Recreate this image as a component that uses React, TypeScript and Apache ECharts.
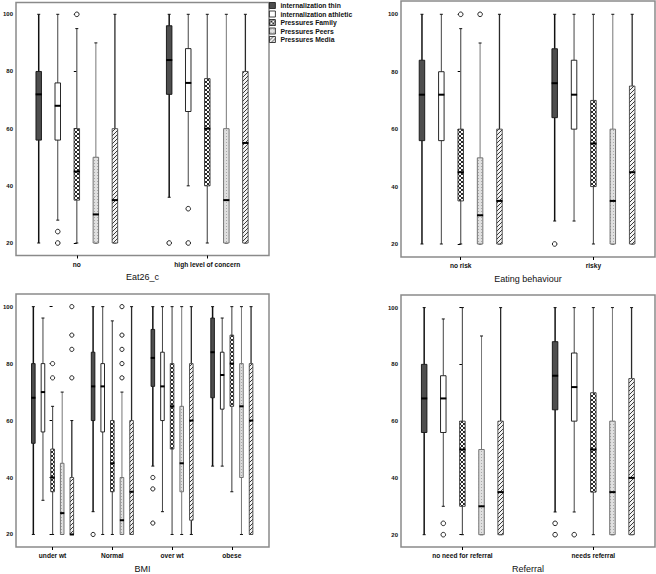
import React, { useEffect, useRef } from 'react';
import * as echarts from 'echarts';

const SERIES_NAMES = [
  'internalization thin',
  'internalization athletic',
  'Pressures Family',
  'Pressures Peers',
  'Pressures Media',
];

// Each box: [min, Q1, median, Q3, max]; one entry per category
const EAT_CATEGORIES = ['no', 'high level of concern'];
const EAT_THIN = [[20, 56, 72, 80, 100], [36, 72, 84, 96, 100]];
const EAT_ATHLETIC = [[28, 56, 68, 76, 100], [40, 66, 76, 88, 100]];
const EAT_FAMILY = [[20, 35, 45, 60, 95], [20, 40, 60, 77.5, 100]];
const EAT_PEERS = [[20, 20, 30, 50, 90], [20, 20, 35, 60, 100]];
const EAT_MEDIA = [[20, 20, 35, 60, 100], [20, 20, 55, 80, 100]];
// outliers: [categoryIndex, seriesIndex, value]
const EAT_OUTLIERS = [[0, 1, 24], [0, 1, 20], [0, 2, 100], [1, 0, 20], [1, 1, 32], [1, 1, 20]];

const BEH_CATEGORIES = ['no risk', 'risky'];
const BEH_THIN = [[20, 56, 72, 84, 100], [28, 64, 76, 88, 100]];
const BEH_ATHLETIC = [[20, 56, 72, 80, 100], [28, 60, 72, 84, 100]];
const BEH_FAMILY = [[20, 35, 45, 60, 95], [20, 40, 55, 70, 100]];
const BEH_PEERS = [[20, 20, 30, 50, 90], [20, 20, 35, 60, 100]];
const BEH_MEDIA = [[20, 20, 35, 60, 100], [20, 20, 45, 75, 100]];
const BEH_OUTLIERS = [[0, 2, 100], [0, 3, 100], [1, 0, 20]];

const BMI_CATEGORIES = ['under wt', 'Normal', 'over wt', 'obese'];
const BMI_THIN = [[20, 52, 68, 80, 100], [28, 60, 72, 84, 100], [44, 72, 82, 92, 100], [44, 68, 84, 96, 100]];
const BMI_ATHLETIC = [[32, 56, 70, 80, 96], [20, 56, 72, 80, 100], [28, 60, 72, 84, 100], [44, 64, 76, 84, 96]];
const BMI_FAMILY = [[20, 35, 40, 50, 65], [20, 35, 45, 60, 95], [20, 50, 65, 80, 100], [35, 65, 80, 90, 100]];
const BMI_PEERS = [[20, 20, 27.5, 45, 70], [20, 20, 25, 40, 70], [20, 35, 45, 65, 100], [20, 40, 65, 80, 100]];
const BMI_MEDIA = [[20, 20, 20, 40, 60], [20, 20, 35, 60, 100], [20, 25, 60, 80, 100], [20, 20, 60, 80, 100]];
const BMI_OUTLIERS = [
  [0, 2, 80], [0, 2, 75], [0, 4, 100], [0, 4, 90], [0, 4, 85], [0, 4, 75],
  [1, 0, 20], [1, 3, 100], [1, 3, 90], [1, 3, 85], [1, 3, 80], [1, 3, 75],
  [2, 0, 40], [2, 0, 36], [2, 0, 24],
];

const REF_CATEGORIES = ['no need for referral', 'needs referral'];
const REF_THIN = [[20, 56, 68, 80, 100], [28, 64, 76, 88, 100]];
const REF_ATHLETIC = [[30, 56, 68, 76, 96], [28, 60, 72, 84, 100]];
const REF_FAMILY = [[20, 30, 50, 60, 100], [20, 35, 50, 70, 100]];
const REF_PEERS = [[20, 20, 30, 50, 90], [20, 20, 35, 60, 100]];
const REF_MEDIA = [[20, 20, 35, 60, 100], [20, 20, 40, 75, 100]];
const REF_OUTLIERS = [[0, 1, 24], [0, 1, 20], [1, 0, 24], [1, 0, 20], [1, 1, 20]];

const Y_TICKS = [20, 40, 60, 80, 100];

const FONT = '"Liberation Sans", Arial, sans-serif';

function makePattern(size: number, bg: string, fg: string, pixels: number[][]) {
  const c = document.createElement('canvas');
  c.width = size;
  c.height = size;
  const ctx = c.getContext('2d')!;
  ctx.fillStyle = bg;
  ctx.fillRect(0, 0, size, size);
  ctx.fillStyle = fg;
  pixels.forEach(([x, y]) => ctx.fillRect(x, y, 1, 1));
  return { image: c.toDataURL(), imageWidth: size, imageHeight: size, repeat: 'repeat' };
}

export default function App() {
  const ref = useRef<HTMLDivElement>(null);

  useEffect(() => {
    if (!ref.current) return;
    const chart = echarts.init(ref.current, undefined, { renderer: 'svg' });

    const familyPat = makePattern(4, '#ffffff', '#2a2a2a', [
      [0, 0], [1, 1], [2, 2], [3, 3], [3, 0], [2, 1], [1, 2], [0, 3],
    ]);
    const peersPat = makePattern(3, '#e0e0e0', '#a8a8a8', [[1, 1]]);
    const mediaPat = makePattern(4, '#f4f4f4', '#3a3a3a', [
      [3, 0], [2, 1], [1, 2], [0, 3],
    ]);

    const STYLES = [
      { fill: '#4e4e4e', border: '#111', whisker: '#111', ww: 1.5 },
      { fill: '#ffffff', border: '#111', whisker: '#444', ww: 1 },
      { fill: familyPat, border: '#333', whisker: '#5a5a5a', ww: 1.2 },
      { fill: peersPat, border: '#666', whisker: '#777', ww: 1 },
      { fill: mediaPat, border: '#444', whisker: '#2a2a2a', ww: 1.3 },
    ];

    const panels = [
      {
        grid: { left: 15, top: 2.5, width: 254, height: 253 },
        xMin: -0.466, xMax: 1.473, yMin: 15.63, yMax: 104.13,
        spacing: 0.146, boxWidth: 5.5, title: 'Eat26_c', cats: EAT_CATEGORIES,
        boxes: [EAT_THIN, EAT_ATHLETIC, EAT_FAMILY, EAT_PEERS, EAT_MEDIA], outliers: EAT_OUTLIERS, r: 2.3,
      },
      {
        grid: { left: 401, top: 1, width: 254, height: 256 },
        xMin: -0.45, xMax: 1.464, yMin: 15.47, yMax: 104.63,
        spacing: 0.146, boxWidth: 5.5, title: 'Eating behaviour', cats: BEH_CATEGORIES,
        boxes: [BEH_THIN, BEH_ATHLETIC, BEH_FAMILY, BEH_PEERS, BEH_MEDIA], outliers: BEH_OUTLIERS, r: 2.3,
      },
      {
        grid: { left: 15, top: 294, width: 254, height: 254.3 },
        xMin: -0.612, xMax: 3.622, yMin: 15.6, yMax: 104.44,
        spacing: 0.161, boxWidth: 3.6, title: 'BMI', cats: BMI_CATEGORIES,
        boxes: [BMI_THIN, BMI_ATHLETIC, BMI_FAMILY, BMI_PEERS, BMI_MEDIA], outliers: BMI_OUTLIERS, r: 2.1,
      },
      {
        grid: { left: 401, top: 295, width: 254, height: 253.7 },
        xMin: -0.469, xMax: 1.471, yMin: 15.66, yMax: 104.44,
        spacing: 0.146, boxWidth: 5.5, title: 'Referral', cats: REF_CATEGORIES,
        boxes: [REF_THIN, REF_ATHLETIC, REF_FAMILY, REF_PEERS, REF_MEDIA], outliers: REF_OUTLIERS, r: 2.3,
      },
    ];

    const grids: any[] = [];
    const xAxes: any[] = [];
    const yAxes: any[] = [];
    const series: any[] = [];

    panels.forEach((p, gi) => {
      grids.push({
        ...p.grid,
        show: true,
        borderColor: '#8a8a8a',
        borderWidth: 1.5,
        backgroundColor: 'transparent',
      });
      const catIdx = p.cats.map((_, i) => i);
      xAxes.push({
        type: 'value',
        gridIndex: gi,
        min: p.xMin,
        max: p.xMax,
        axisLine: { show: false },
        splitLine: { show: false },
        axisTick: { show: true, customValues: catIdx, length: 3, lineStyle: { color: '#000', width: 1 } },
        axisLabel: {
          show: true,
          customValues: catIdx,
          formatter: (v: number) => p.cats[Math.round(v)] ?? '',
          fontSize: 6.6,
          fontWeight: 'bold',
          fontFamily: FONT,
          color: '#111',
          margin: 5,
        },
        name: p.title,
        nameLocation: 'middle',
        nameGap: 17,
        nameTextStyle: { fontSize: 9, color: '#111', fontFamily: FONT, verticalAlign: 'top' },
      });
      yAxes.push({
        type: 'value',
        gridIndex: gi,
        min: p.yMin,
        max: p.yMax,
        axisLine: { show: false },
        splitLine: { show: false },
        axisTick: { show: true, customValues: Y_TICKS, length: 3, lineStyle: { color: '#000', width: 1 } },
        axisLabel: {
          show: true,
          customValues: Y_TICKS,
          fontSize: 6,
          fontWeight: 'bold',
          fontFamily: FONT,
          color: '#111',
          margin: 3,
        },
      });

      p.boxes.forEach((arr, si) => {
        const st = STYLES[si];
        series.push({
          type: 'custom',
          name: SERIES_NAMES[si],
          xAxisIndex: gi,
          yAxisIndex: gi,
          itemStyle: { color: st.fill, borderColor: '#111', borderWidth: 0.8 },
          encode: { x: 0, y: [1, 2, 3, 4, 5] },
          data: arr.map((v, ci) => [ci, ...v]),
          renderItem: (params: any, api: any) => {
            const x = api.value(0) + (si - 2) * p.spacing;
            const pMin = api.coord([x, api.value(1)]);
            const pQ1 = api.coord([x, api.value(2)]);
            const pMed = api.coord([x, api.value(3)]);
            const pQ3 = api.coord([x, api.value(4)]);
            const pMax = api.coord([x, api.value(5)]);
            const cx = pMin[0];
            const bw = p.boxWidth;
            const wStyle = { stroke: st.whisker, lineWidth: st.ww };
            return {
              type: 'group',
              children: [
                { type: 'line', shape: { x1: cx, y1: pMax[1], x2: cx, y2: pQ3[1] }, style: wStyle },
                { type: 'line', shape: { x1: cx, y1: pQ1[1], x2: cx, y2: pMin[1] }, style: wStyle },
                { type: 'line', shape: { x1: cx - 1.5, y1: pMax[1], x2: cx + 1.5, y2: pMax[1] }, style: { stroke: '#111', lineWidth: 1 } },
                { type: 'line', shape: { x1: cx - 1.5, y1: pMin[1], x2: cx + 1.5, y2: pMin[1] }, style: { stroke: '#111', lineWidth: 1 } },
                {
                  type: 'rect',
                  shape: { x: cx - bw / 2, y: pQ3[1], width: bw, height: pQ1[1] - pQ3[1] },
                  style: { fill: st.fill, stroke: st.border, lineWidth: 0.9 },
                },
                {
                  type: 'line',
                  shape: { x1: cx - bw / 2 - 0.3, y1: pMed[1], x2: cx + bw / 2 + 0.3, y2: pMed[1] },
                  style: { stroke: '#000', lineWidth: 2 },
                },
              ],
            };
          },
        });
      });

      series.push({
        type: 'custom',
        name: 'outliers',
        xAxisIndex: gi,
        yAxisIndex: gi,
        encode: { x: 0, y: 2 },
        data: p.outliers,
        renderItem: (params: any, api: any) => {
          const x = api.value(0) + (api.value(1) - 2) * p.spacing;
          const pt = api.coord([x, api.value(2)]);
          return {
            type: 'circle',
            shape: { cx: pt[0], cy: pt[1], r: p.r },
            style: { fill: '#fff', stroke: '#222', lineWidth: 1 },
          };
        },
      });
    });

    chart.setOption({
      animation: false,
      backgroundColor: '#ffffff',
      textStyle: { fontFamily: FONT },
      legend: {
        show: true,
        orient: 'vertical',
        left: 269,
        top: 2,
        padding: 0,
        itemGap: 1.5,
        itemWidth: 6,
        itemHeight: 6,
        icon: 'rect',
        selectedMode: false,
        textStyle: { fontSize: 6.8, fontWeight: 'bold', fontFamily: FONT, color: '#111' },
        data: SERIES_NAMES.map((n, i) => ({
          name: n,
          itemStyle: { color: STYLES[i].fill, borderColor: '#111', borderWidth: 0.8 },
        })),
      },
      grid: grids,
      xAxis: xAxes,
      yAxis: yAxes,
      series,
    });

    return () => chart.dispose();
  }, []);

  return (
    <div
      ref={ref}
      style={{ position: 'absolute', left: 0, top: 0, width: 656, height: 574, background: '#fff' }}
    />
  );
}
